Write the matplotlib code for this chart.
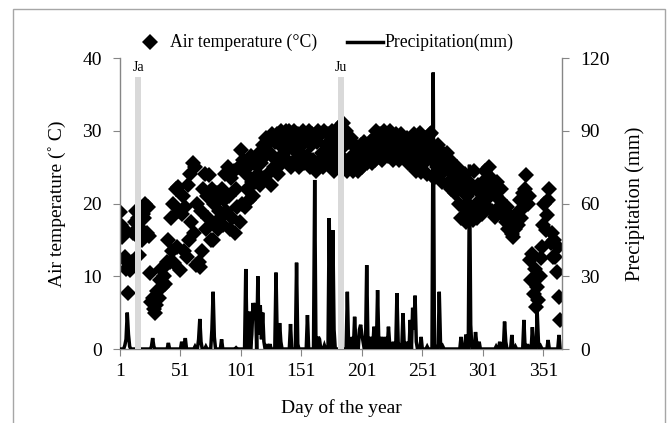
import numpy as np
import matplotlib
matplotlib.use("Agg")
import matplotlib.pyplot as plt
from matplotlib.lines import Line2D
from matplotlib.patches import Rectangle

plt.rcParams['font.family'] = ['Liberation Serif', 'DejaVu Serif']

# ---------------- data ----------------
# daily air temperature (deg C), day 1 .. 365
air_temp = [
    18.8, 17.0, 15.4, 16.5, 12.6, 11.0, 12.0, 7.7, 10.9, 11.5,      # 1-10
    12.0, 16.0, 17.5, 19.0, 15.5, 18.0, 12.9, 16.5, 15.0, 18.5,     # 11-20
    18.0, 20.0, 16.0, 19.5, 15.5, 10.4, 6.5, 7.0, 5.5, 4.9,         # 21-30
    6.0, 8.0, 7.0, 9.5, 11.0, 8.5, 10.0, 9.0, 11.5, 12.0,           # 31-40
    15.0, 12.0, 18.0, 13.5, 20.0, 11.8, 22.0, 14.0, 22.3, 19.0,     # 41-50
    10.9, 18.5, 21.0, 13.5, 19.5, 12.6, 22.5, 15.0, 24.0, 17.5,     # 51-60
    25.5, 16.0, 25.0, 11.5, 20.0, 12.0, 11.3, 19.0, 13.5, 22.0,     # 61-70
    24.0, 16.5, 21.0, 18.0, 23.9, 15.0, 22.0, 15.0, 20.0, 17.0,     # 71-80
    21.5, 16.5, 19.0, 18.0, 22.0, 17.0, 20.5, 24.0, 19.0, 25.0,     # 81-90
    21.0, 16.5, 23.5, 18.0, 24.5, 16.0, 22.0, 19.5, 25.0, 17.5,     # 91-100
    27.4, 20.0, 26.0, 19.5, 24.0, 22.0, 25.0, 20.5, 26.5, 23.0,     # 101-110
    21.0, 25.5, 23.0, 26.0, 24.0, 27.0, 22.5, 25.5, 28.0, 23.5,     # 111-120
    26.5, 29.0, 24.0, 28.3, 27.0, 22.5, 29.5, 25.0, 28.5, 26.0,     # 121-130
    29.5, 24.0, 28.0, 30.0, 25.5, 29.0, 27.0, 30.0, 26.0, 28.5,     # 131-140
    30.0, 25.0, 29.5, 27.5, 30.0, 26.0, 28.0, 29.5, 25.0, 29.0,     # 141-150
    27.0, 30.0, 25.5, 28.5, 29.5, 26.5, 30.0, 25.0, 28.0, 29.5,     # 151-160
    26.0, 29.0, 24.5, 28.5, 30.0, 26.0, 29.5, 27.0, 25.0, 30.0,     # 161-170
    28.0, 26.5, 29.5, 25.5, 28.5, 30.0, 27.0, 24.5, 29.0, 26.0,     # 171-180
    28.0, 30.5, 25.0, 27.5, 31.0, 29.5, 26.0, 30.0, 24.5, 28.5,     # 181-190
    25.0, 29.0, 26.5, 24.5, 28.0, 25.5, 27.5, 24.5, 26.5, 28.0,     # 191-200
    25.0, 27.0, 28.5, 26.0, 25.5, 27.5, 26.0, 28.5, 25.5, 27.0,     # 201-210
    29.0, 26.0, 30.0, 27.5, 26.5, 29.5, 28.0, 26.0, 30.0, 27.0,     # 211-220
    28.5, 29.5, 26.5, 30.0, 27.5, 29.0, 26.0, 28.5, 29.5, 27.0,     # 221-230
    28.0, 26.0, 29.5, 27.5, 28.5, 26.5, 27.0, 29.0, 25.5, 28.0,     # 231-240
    26.0, 28.5, 25.0, 29.5, 27.0, 24.5, 29.0, 26.0, 29.7, 24.3,     # 241-250
    28.0, 25.5, 27.0, 29.0, 24.0, 27.5, 29.5, 29.7, 26.0, 28.0,     # 251-260
    23.5, 27.5, 25.0, 28.0, 24.0, 26.5, 23.0, 27.0, 24.5, 25.5,     # 261-270
    27.0, 22.5, 24.5, 26.0, 22.0, 23.5, 25.0, 21.5, 23.0, 25.0,     # 271-280
    20.0, 23.5, 18.0, 22.0, 19.5, 24.0, 17.5, 21.0, 18.5, 23.0,     # 281-290
    19.5, 22.0, 17.8, 24.4, 20.0, 18.0, 22.5, 19.0, 21.5, 18.5,     # 291-300
    23.0, 20.0, 24.5, 19.5, 22.0, 25.0, 21.0, 23.5, 19.0, 22.5,     # 301-310
    18.2, 21.0, 23.0, 19.5, 20.5, 22.0, 18.5, 20.0, 19.0, 17.5,     # 311-320
    19.5, 16.5, 18.0, 17.0, 15.8, 15.4, 17.5, 16.5, 18.5, 17.0,     # 321-330
    19.0, 20.5, 18.0, 21.5, 19.5, 22.0, 23.9, 20.0, 21.0, 12.2,     # 331-340
    9.5, 13.0, 7.5, 11.0, 5.8, 8.5, 6.7, 10.0, 12.5, 14.0,          # 341-350
    17.0, 20.0, 16.4, 18.4, 20.5, 22.0, 14.6, 16.0, 12.7, 15.0,     # 351-360
    12.7, 10.6, 14.0, 7.2, 4.0,                                     # 361-365
]

# rain days and daily precipitation (mm); all other days 0
rain_days = [5, 6, 7, 8, 9, 27, 28, 29, 41, 52, 53, 55, 63, 66, 67, 68, 72,
             77, 78, 79, 85, 97, 105, 106, 108, 110, 111, 112, 113, 115, 116,
             117, 118, 119, 120, 123, 125, 130, 131, 133, 134, 142, 147, 148,
             156, 162, 163, 165, 166, 170, 174, 175, 177, 178, 189, 190, 193,
             195, 196, 199, 200, 201, 202, 205, 206, 208, 209, 211, 212, 214,
             215, 217, 218, 220, 221, 223, 224, 227, 230, 231, 233, 235, 236,
             238, 241, 243, 244, 245, 246, 250, 255, 260, 261, 265, 266, 268,
             283, 287, 288, 290, 291, 295, 296, 298, 312, 315, 319, 320, 325,
             328, 335, 338, 342, 346, 347, 349, 355, 364]
rain_mm = [1.5, 4, 15, 6, 1, 1, 4.5, 1, 2.5, 3, 1, 4.5, 1, 4, 12.4, 3, 1,
           8, 23.6, 5, 4, 0.5, 33, 5, 15.4, 6, 19, 12, 19, 30, 6,
           18, 4, 15, 3, 2, 2, 31.5, 4, 10.7, 3, 10.3, 35.6, 2,
           14, 69.7, 3, 5, 4, 1.5, 54, 10, 49, 8, 23.6, 2, 5,
           13.3, 3, 8, 10, 6, 3, 34.6, 3, 5, 2, 9.2, 4, 24.3,
           3, 5, 2, 5, 1, 9.2, 2, 3, 23, 3, 2, 14.7, 2,
           3, 12, 17, 8, 22, 3, 5, 1, 114, 2, 23.6, 3, 1,
           5, 6, 3, 76, 10, 7, 2, 3, 1, 3, 11.3, 3, 5.8,
           1, 12, 2, 9, 15.4, 3, 1, 3.7, 5.8]

marker_days = [16, 184]          # highlighted days
marker_labels = ["Ja", "Ju"]
marker_height = [112, 112]       # on precipitation axis

x_ticks = [1, 51, 101, 151, 201, 251, 301, 351]

days = np.arange(1, len(air_temp) + 1)
precip = np.zeros(len(days))
for d, v in zip(rain_days, rain_mm):
    precip[d - 1] = v

# ---------------- figure ----------------
W, H = 669, 423
fig = plt.figure(figsize=(W / 100, H / 100), dpi=100)
ax = fig.add_axes([120 / W, 1 - 349 / H, (562 - 120) / W, (349 - 58) / H])
ax2 = ax.twinx()

gray = '#868686'
ms = 8.2

ax.plot(days, air_temp, linestyle='none', marker='D', markersize=ms,
        color='black', markeredgewidth=0, zorder=2)
ax2.plot(days, precip, color='black', linewidth=2.5, zorder=2,
         solid_joinstyle='miter')
ax2.bar(marker_days, marker_height, width=5.0, color='#d9d9d9', zorder=3)
for d, lab, h in zip(marker_days, marker_labels, marker_height):
    ax2.text(d, h + 1.5, lab, ha='center', va='bottom', fontsize=10)

ax.set_xlim(1, 366.5)
ax.set_ylim(0, 40)
ax2.set_ylim(0, 120)
ax.set_xticks(x_ticks)
ax.set_yticks([0, 10, 20, 30, 40])
ax2.set_yticks([0, 30, 60, 90, 120])

for a in (ax, ax2):
    a.spines['top'].set_visible(False)
    for s in ('left', 'right', 'bottom'):
        a.spines[s].set_color(gray)
        a.spines[s].set_linewidth(1.0)
ax.spines['right'].set_visible(False)
ax2.spines['left'].set_visible(False)
ax2.spines['bottom'].set_visible(False)

ax.tick_params(axis='both', direction='out', length=5, color=gray,
               labelsize=14, pad=5)
ax.tick_params(axis='y', pad=8)
ax2.tick_params(axis='y', direction='out', length=5, color=gray,
                labelsize=14, pad=8)

ax.set_xlabel('Day of the year', fontsize=14, labelpad=14)
ax.set_ylabel('Air temperature (\u02da C)', fontsize=14, labelpad=12)
ax2.set_ylabel('Precipitation (mm)', fontsize=14.7, labelpad=11)

# legend (manual, figure coordinates)
ly = 1 - 42 / H
fig.add_artist(Line2D([150 / W], [ly], marker='D', markersize=ms,
                      color='black', markeredgewidth=0, linestyle='none'))
fig.text(170 / W, ly, 'Air temperature (\u00b0C)', fontsize=12.7, va='center')
fig.add_artist(Line2D([347 / W, 383 / W], [ly, ly], color='black',
                      linewidth=2.5))
fig.text(384 / W, ly, 'Precipitation(mm)', fontsize=12.7, va='center')

# outer frame
fig.add_artist(Rectangle((13 / W, -0.1), (665 - 13) / W, 1.1 - 9 / H,
                         transform=fig.transFigure, fill=False,
                         edgecolor='#a6a6a6', linewidth=1.0))

fig.savefig('out.png', dpi=100)
